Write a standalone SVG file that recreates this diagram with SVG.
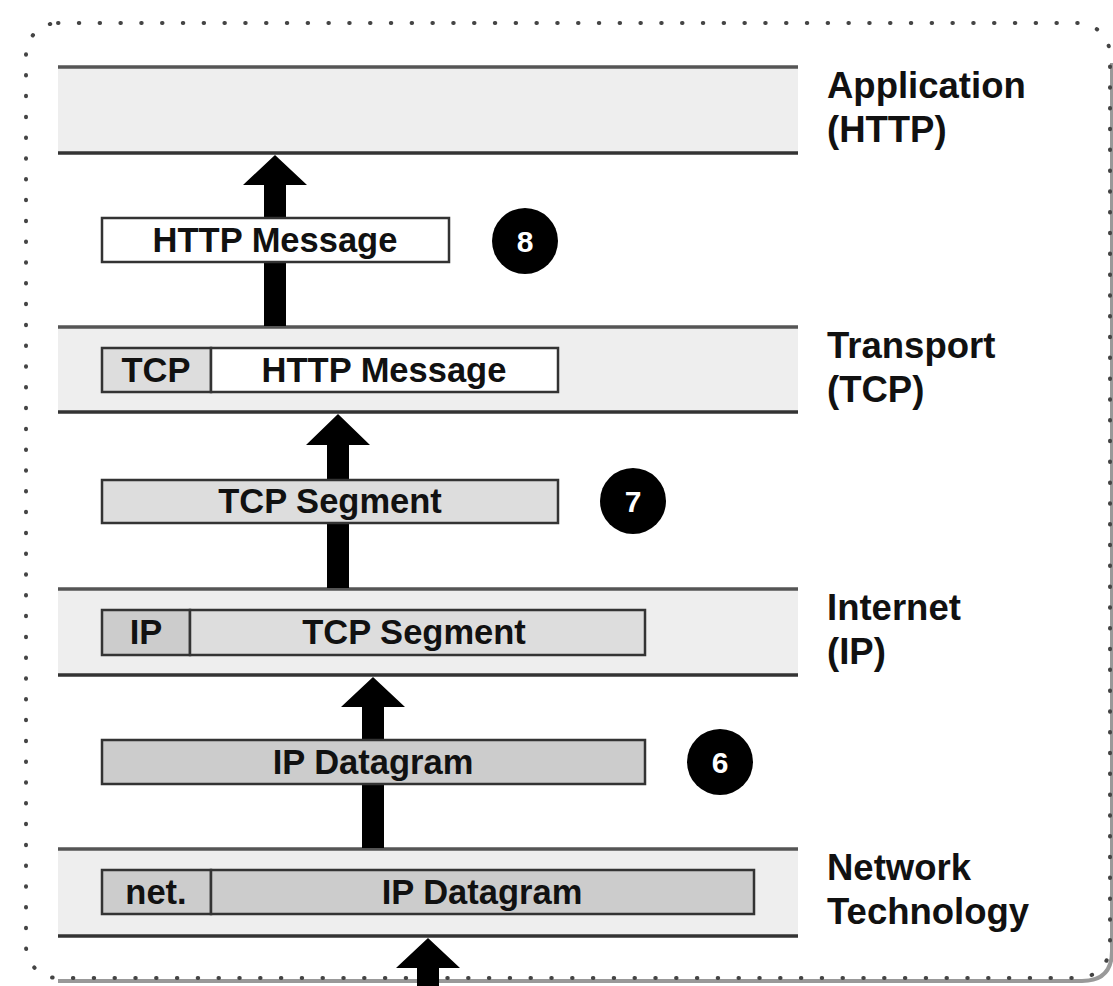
<svg xmlns="http://www.w3.org/2000/svg" width="1113" height="986" viewBox="0 0 1113 986">
<style>
.band{fill:#eeeeee}
.ltop{stroke:#555;stroke-width:3.5}
.lbot{stroke:#333;stroke-width:3.5}
.box{stroke:#333;stroke-width:2.5}
.w{fill:#ffffff}
.g1{fill:#dddddd}
.g2{fill:#cccccc}
.bt{font-family:"Liberation Sans",Arial,sans-serif;font-weight:bold;font-size:34.5px;fill:#111;text-anchor:middle}
.lbl{font-family:"Liberation Sans",Arial,sans-serif;font-weight:bold;font-size:36.5px;fill:#111}
.num{font-family:"Liberation Sans",Arial,sans-serif;font-weight:bold;font-size:30px;fill:#fff;text-anchor:middle}
.arrow{fill:#000}
</style>
<rect width="1113" height="986" fill="#fff"/>
<g id="frame">
<path d="M1110,60 L1110,948 Q1110,978 1080,978 L56,978" fill="none" stroke="#999" stroke-width="4" transform="translate(2,3)"/>
<rect x="26" y="23" width="1084" height="955" rx="32" ry="32" fill="none" stroke="#444" stroke-width="4" stroke-dasharray="0.5 20.3" stroke-linecap="round"/>
</g>
<g id="layer-application">
<rect class="band" x="58" y="66" width="740" height="87"/>
<line class="ltop" x1="58" y1="67" x2="798" y2="67"/>
<line class="lbot" x1="58" y1="153" x2="798" y2="153"/>
<text class="lbl" x="827" y="98">Application</text>
<text class="lbl" x="827" y="142">(HTTP)</text>
</g>
<g id="layer-transport">
<rect class="band" x="58" y="326" width="740" height="86"/>
<line class="ltop" x1="58" y1="327" x2="798" y2="327"/>
<line class="lbot" x1="58" y1="412" x2="798" y2="412"/>
<text class="lbl" x="827" y="358">Transport</text>
<text class="lbl" x="827" y="402">(TCP)</text>
</g>
<g id="layer-internet">
<rect class="band" x="58" y="588" width="740" height="87"/>
<line class="ltop" x1="58" y1="589" x2="798" y2="589"/>
<line class="lbot" x1="58" y1="675" x2="798" y2="675"/>
<text class="lbl" x="827" y="620">Internet</text>
<text class="lbl" x="827" y="664">(IP)</text>
</g>
<g id="layer-network">
<rect class="band" x="58" y="848" width="740" height="88"/>
<line class="ltop" x1="58" y1="849" x2="798" y2="849"/>
<line class="lbot" x1="58" y1="936" x2="798" y2="936"/>
<text class="lbl" x="827" y="880">Network</text>
<text class="lbl" x="827" y="924">Technology</text>
</g>
<g id="connectors">
<path class="arrow" d="M275,155 L307,185 L286,185 L286,326 L264,326 L264,185 L243,185 Z"/>
<path class="arrow" d="M338,414 L370,445 L349,445 L349,588 L327,588 L327,445 L306,445 Z"/>
<path class="arrow" d="M373,677 L405,707 L384,707 L384,848 L362,848 L362,707 L341,707 Z"/>
<path class="arrow" d="M428,938 L460,968 L439,968 L439,986 L417,986 L417,968 L396,968 Z"/>
</g>
<g id="http-message">
<rect class="box w" x="102" y="218" width="347" height="44"/>
<text class="bt" x="275" y="252">HTTP Message</text>
</g>
<g id="step-8">
<circle cx="525" cy="241" r="33" fill="#000"/>
<text class="num" x="525" y="252">8</text>
</g>
<g id="tcp-packet">
<rect class="box g1" x="102" y="348" width="109" height="44"/>
<rect class="box w" x="211" y="348" width="347" height="44"/>
<text class="bt" x="156" y="382">TCP</text>
<text class="bt" x="384" y="382">HTTP Message</text>
</g>
<g id="tcp-segment">
<rect class="box g1" x="102" y="480" width="456" height="43"/>
<text class="bt" x="330" y="513">TCP Segment</text>
</g>
<g id="step-7">
<circle cx="633" cy="501" r="33" fill="#000"/>
<text class="num" x="633" y="512">7</text>
</g>
<g id="ip-packet">
<rect class="box g2" x="102" y="610" width="88" height="45"/>
<rect class="box g1" x="190" y="610" width="455" height="45"/>
<text class="bt" x="146" y="644">IP</text>
<text class="bt" x="414" y="644">TCP Segment</text>
</g>
<g id="ip-datagram">
<rect class="box g2" x="102" y="740" width="543" height="44"/>
<text class="bt" x="373" y="774">IP Datagram</text>
</g>
<g id="step-6">
<circle cx="720" cy="762" r="33" fill="#000"/>
<text class="num" x="720" y="773">6</text>
</g>
<g id="net-frame">
<rect class="box g2" x="102" y="870" width="109" height="44"/>
<rect class="box g2" x="211" y="870" width="543" height="44"/>
<text class="bt" x="156" y="904">net.</text>
<text class="bt" x="482" y="904">IP Datagram</text>
</g>
</svg>
